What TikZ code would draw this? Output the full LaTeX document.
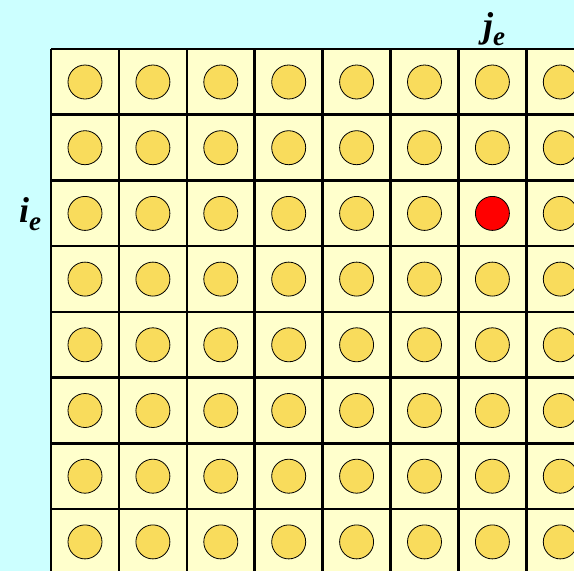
\documentclass[tikz,border=0pt]{standalone}
\usepackage{fontspec}
\setmainfont{Liberation Serif}
\usetikzlibrary{positioning}
\definecolor{skybg}{HTML}{CCFFFF}
\definecolor{cellbg}{HTML}{FFFFCC}
\definecolor{dotgold}{HTML}{F9DC5C}
\newcommand{\lowe}[1]{\raisebox{-8pt}{\fontsize{27}{27}\selectfont #1}}

\begin{document}
\begin{tikzpicture}[x=1pt, y=-1pt,
  dot/.style={circle, draw=black, line width=0.8pt, fill=dotgold, minimum size=34pt, inner sep=0pt},
  hot/.style={dot, fill=red},
  idx/.style={font=\fontsize{36}{40}\selectfont\bfseries\itshape, inner sep=0pt, anchor=base}]
\fill[skybg] (0,0) rectangle (574,571);
\clip (0,0) rectangle (574,571);
\fill[cellbg] (51,49) rectangle (620,620);
\foreach \c in {0,...,8} {
\draw[line width=2.6pt] ({51+67.9*\c},49) -- ({51+67.9*\c},620);
}
\foreach \r in {0,...,8} {
\draw[line width=2.6pt] (51,{49+65.7*\r}) -- (620,{49+65.7*\r});
}
\foreach \r in {0,...,7} {
\foreach \c in {0,...,8} {
\def\sty{dot}
\ifnum\r=2 \ifnum\c=6 \def\sty{hot}\fi\fi
\node[\sty] (d-\r-\c) at ({85+67.9*\c},{82+65.7*\r}) {};
}
}
\node[idx] (je) at (494,37) {j\lowe{e}};
\node[idx] (ie) at (30,222) {i\lowe{e}};
\end{tikzpicture}
\end{document}
